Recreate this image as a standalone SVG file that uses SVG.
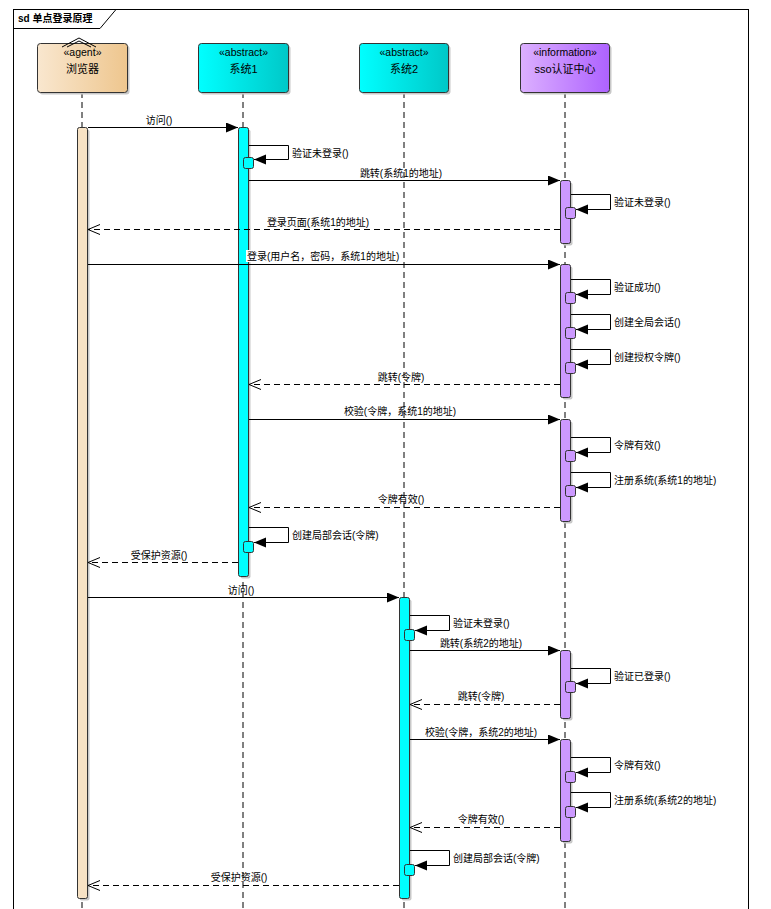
<svg xmlns="http://www.w3.org/2000/svg" width="771" height="909" viewBox="0 0 771 909">
<defs>
<linearGradient id="gAgent" x1="0" y1="0" x2="1" y2="0"><stop offset="0" stop-color="#F9E7CF"/><stop offset="1" stop-color="#EEC68E"/></linearGradient>
<linearGradient id="gCyan" x1="0" y1="0" x2="1" y2="0"><stop offset="0" stop-color="#00FFFF"/><stop offset="1" stop-color="#00C8C8"/></linearGradient>
<linearGradient id="gPurple" x1="0" y1="0" x2="1" y2="0"><stop offset="0" stop-color="#DCB0FF"/><stop offset="1" stop-color="#AE62FF"/></linearGradient>
<marker id="fill" markerUnits="userSpaceOnUse" markerWidth="14" markerHeight="12" refX="12" refY="5" orient="auto"><path d="M0,0 L12,5 L0,10 z" fill="#000"/></marker>
<marker id="open" markerUnits="userSpaceOnUse" markerWidth="14" markerHeight="12" refX="12" refY="5" orient="auto"><path d="M0,0 L12,5 L0,10" fill="none" stroke="#000" stroke-width="1"/></marker>
</defs>
<style>
text{font-family:"Liberation Sans","Noto Sans CJK SC",sans-serif;font-size:10px;fill:#000}
.st{font-size:10.5px}
.nm{font-size:11px}
.life{stroke:#000;stroke-width:1;stroke-dasharray:6,4;fill:none}
.head{stroke:#333;stroke-width:1}
.sh{fill:#c8c8c8}
.bar{stroke:#333;stroke-width:1}
.ag{fill:#F7E2C4}
.cy{fill:#00FFFF}
.pu{fill:#CC99FF}
.msg{stroke:#000;stroke-width:1;fill:none;marker-end:url(#fill)}
.ret{stroke:#000;stroke-width:1;fill:none;stroke-dasharray:6,4;marker-end:url(#open)}
.self{stroke:#000;stroke-width:1;fill:none;marker-end:url(#fill)}
.lbl{text-anchor:middle}
</style>
<rect width="771" height="909" fill="#fff"/>
<g id="frame">
<rect x="13.5" y="9.5" width="735" height="910" fill="none" stroke="#000"/>
<path d="M13.5,28.5 H100 L116,9.5" fill="none" stroke="#000"/>
<text x="18" y="22" style="font-weight:bold">sd 单点登录原理</text>
</g>
<g id="lifelines">
<line class="life" x1="82" y1="92" x2="82" y2="909"/>
<line class="life" x1="243" y1="92" x2="243" y2="909"/>
<line class="life" x1="404" y1="92" x2="404" y2="909"/>
<line class="life" x1="565" y1="92" x2="565" y2="909"/>
</g>
<g id="node-browser">
<rect class="sh" x="39.5" y="45.5" width="90" height="49" rx="3"/>
<rect class="head" x="37.5" y="43.5" width="90" height="49" rx="3" fill="url(#gAgent)"/>
<path d="M62,47 L79,38 L96,47 M67,47 L79,41 L91,47" fill="none" stroke="#000"/>
<text class="st lbl" x="82.5" y="56">«agent»</text>
<text class="nm lbl" x="82.5" y="73">浏览器</text>
</g>
<g id="node-sys1">
<rect class="sh" x="200.5" y="45.5" width="90" height="49" rx="3"/>
<rect class="head" x="198.5" y="43.5" width="90" height="49" rx="3" fill="url(#gCyan)"/>
<text class="st lbl" x="243.5" y="56">«abstract»</text>
<text class="nm lbl" x="243.5" y="73">系统1</text>
</g>
<g id="node-sys2">
<rect class="sh" x="361.5" y="45.5" width="89" height="49" rx="3"/>
<rect class="head" x="359.5" y="43.5" width="89" height="49" rx="3" fill="url(#gCyan)"/>
<text class="st lbl" x="404" y="56">«abstract»</text>
<text class="nm lbl" x="404" y="73">系统2</text>
</g>
<g id="node-sso">
<rect class="sh" x="522.5" y="45.5" width="89" height="49" rx="3"/>
<rect class="head" x="520.5" y="43.5" width="89" height="49" rx="3" fill="url(#gPurple)"/>
<text class="st lbl" x="565" y="56">«information»</text>
<text class="nm lbl" x="565" y="73">sso认证中心</text>
</g>
<g id="activations">
<rect class="sh" x="79.5" y="129.5" width="10" height="771" rx="2"/>
<rect class="bar ag" x="77.5" y="127.5" width="10" height="771" rx="2"/>
<rect class="sh" x="240.5" y="129.5" width="10" height="449" rx="2"/>
<rect class="bar cy" x="238.5" y="127.5" width="10" height="449" rx="2"/>
<rect class="sh" x="401.5" y="599.5" width="10" height="301" rx="2"/>
<rect class="bar cy" x="399.5" y="597.5" width="10" height="301" rx="2"/>
<rect class="sh" x="562.5" y="182.5" width="10" height="63" rx="2"/>
<rect class="bar pu" x="560.5" y="180.5" width="10" height="63" rx="2"/>
<rect class="sh" x="562.5" y="266.5" width="10" height="133" rx="2"/>
<rect class="bar pu" x="560.5" y="264.5" width="10" height="133" rx="2"/>
<rect class="sh" x="562.5" y="421.5" width="10" height="102" rx="2"/>
<rect class="bar pu" x="560.5" y="419.5" width="10" height="102" rx="2"/>
<rect class="sh" x="562.5" y="652.5" width="10" height="68" rx="2"/>
<rect class="bar pu" x="560.5" y="650.5" width="10" height="68" rx="2"/>
<rect class="sh" x="562.5" y="741.5" width="10" height="102" rx="2"/>
<rect class="bar pu" x="560.5" y="739.5" width="10" height="102" rx="2"/>
<rect class="bar cy" x="243.5" y="157.5" width="10" height="11" rx="2"/>
<rect class="bar cy" x="243.5" y="541.5" width="10" height="11" rx="2"/>
<rect class="bar cy" x="404.5" y="629.5" width="10" height="11" rx="2"/>
<rect class="bar cy" x="404.5" y="864.5" width="10" height="11" rx="2"/>
<rect class="bar pu" x="565.5" y="207.5" width="10" height="11" rx="2"/>
<rect class="bar pu" x="565.5" y="292.5" width="10" height="11" rx="2"/>
<rect class="bar pu" x="565.5" y="327.5" width="10" height="11" rx="2"/>
<rect class="bar pu" x="565.5" y="362.5" width="10" height="11" rx="2"/>
<rect class="bar pu" x="565.5" y="450.5" width="10" height="11" rx="2"/>
<rect class="bar pu" x="565.5" y="485.5" width="10" height="11" rx="2"/>
<rect class="bar pu" x="565.5" y="681.5" width="10" height="11" rx="2"/>
<rect class="bar pu" x="565.5" y="771.5" width="10" height="11" rx="2"/>
<rect class="bar pu" x="565.5" y="806.5" width="10" height="11" rx="2"/>
</g>
<g id="connectors">
<path class="msg" d="M88,127.5 H238"/>
<path class="self" d="M249,145.5 H288.5 V159.5 H254"/>
<path class="msg" d="M249,180.5 H560"/>
<path class="self" d="M571,194.5 H610.5 V209.5 H576"/>
<path class="ret" d="M560,229.5 H88"/>
<path class="msg" d="M88,264.5 H560"/>
<path class="self" d="M571,279.5 H610.5 V294.5 H576"/>
<path class="self" d="M571,314.5 H610.5 V329.5 H576"/>
<path class="self" d="M571,349.5 H610.5 V364.5 H576"/>
<path class="ret" d="M560,384.5 H249"/>
<path class="msg" d="M249,419.5 H560"/>
<path class="self" d="M571,437.5 H610.5 V452.5 H576"/>
<path class="self" d="M571,472.5 H610.5 V487.5 H576"/>
<path class="ret" d="M560,507.5 H249"/>
<path class="self" d="M249,527.5 H288.5 V542.5 H254"/>
<path class="ret" d="M238,562.5 H88"/>
<path class="msg" d="M88,597.5 H399"/>
<path class="self" d="M410,615.5 H449.5 V630.5 H415"/>
<path class="msg" d="M410,650.5 H560"/>
<path class="self" d="M571,668.5 H610.5 V683.5 H576"/>
<path class="ret" d="M560,704.5 H410"/>
<path class="msg" d="M410,739.5 H560"/>
<path class="self" d="M571,757.5 H610.5 V772.5 H576"/>
<path class="self" d="M571,792.5 H610.5 V807.5 H576"/>
<path class="ret" d="M560,827.5 H410"/>
<path class="self" d="M410,850.5 H449.5 V865.5 H415"/>
<path class="ret" d="M399,885.5 H88"/>
</g>
<g id="labels">
<text class="lbl" x="159" y="124">访问()</text>
<text x="292" y="157">验证未登录()</text>
<text class="lbl" x="401" y="177">跳转(系统1的地址)</text>
<text x="614" y="206">验证未登录()</text>
<text class="lbl" x="318" y="226">登录页面(系统1的地址)</text>
<rect x="246" y="250" width="154" height="12" fill="#fff"/>
<text x="247" y="260">登录(用户名，密码，系统1的地址)</text>
<text x="614" y="291">验证成功()</text>
<text x="614" y="326">创建全局会话()</text>
<text x="614" y="361">创建授权令牌()</text>
<text class="lbl" x="401" y="381">跳转(令牌)</text>
<text class="lbl" x="400" y="415">校验(令牌，系统1的地址)</text>
<text x="614" y="449">令牌有效()</text>
<text x="614" y="484">注册系统(系统1的地址)</text>
<text class="lbl" x="401" y="503">令牌有效()</text>
<text x="292" y="539">创建局部会话(令牌)</text>
<text class="lbl" x="159" y="559">受保护资源()</text>
<text class="lbl" x="241" y="594">访问()</text>
<text x="453" y="627">验证未登录()</text>
<text class="lbl" x="481" y="647">跳转(系统2的地址)</text>
<text x="614" y="680">验证已登录()</text>
<text class="lbl" x="481" y="700">跳转(令牌)</text>
<text class="lbl" x="481" y="736">校验(令牌，系统2的地址)</text>
<text x="614" y="769">令牌有效()</text>
<text x="614" y="804">注册系统(系统2的地址)</text>
<text class="lbl" x="481" y="823">令牌有效()</text>
<text x="453" y="862">创建局部会话(令牌)</text>
<text class="lbl" x="239" y="881">受保护资源()</text>
</g>
</svg>
